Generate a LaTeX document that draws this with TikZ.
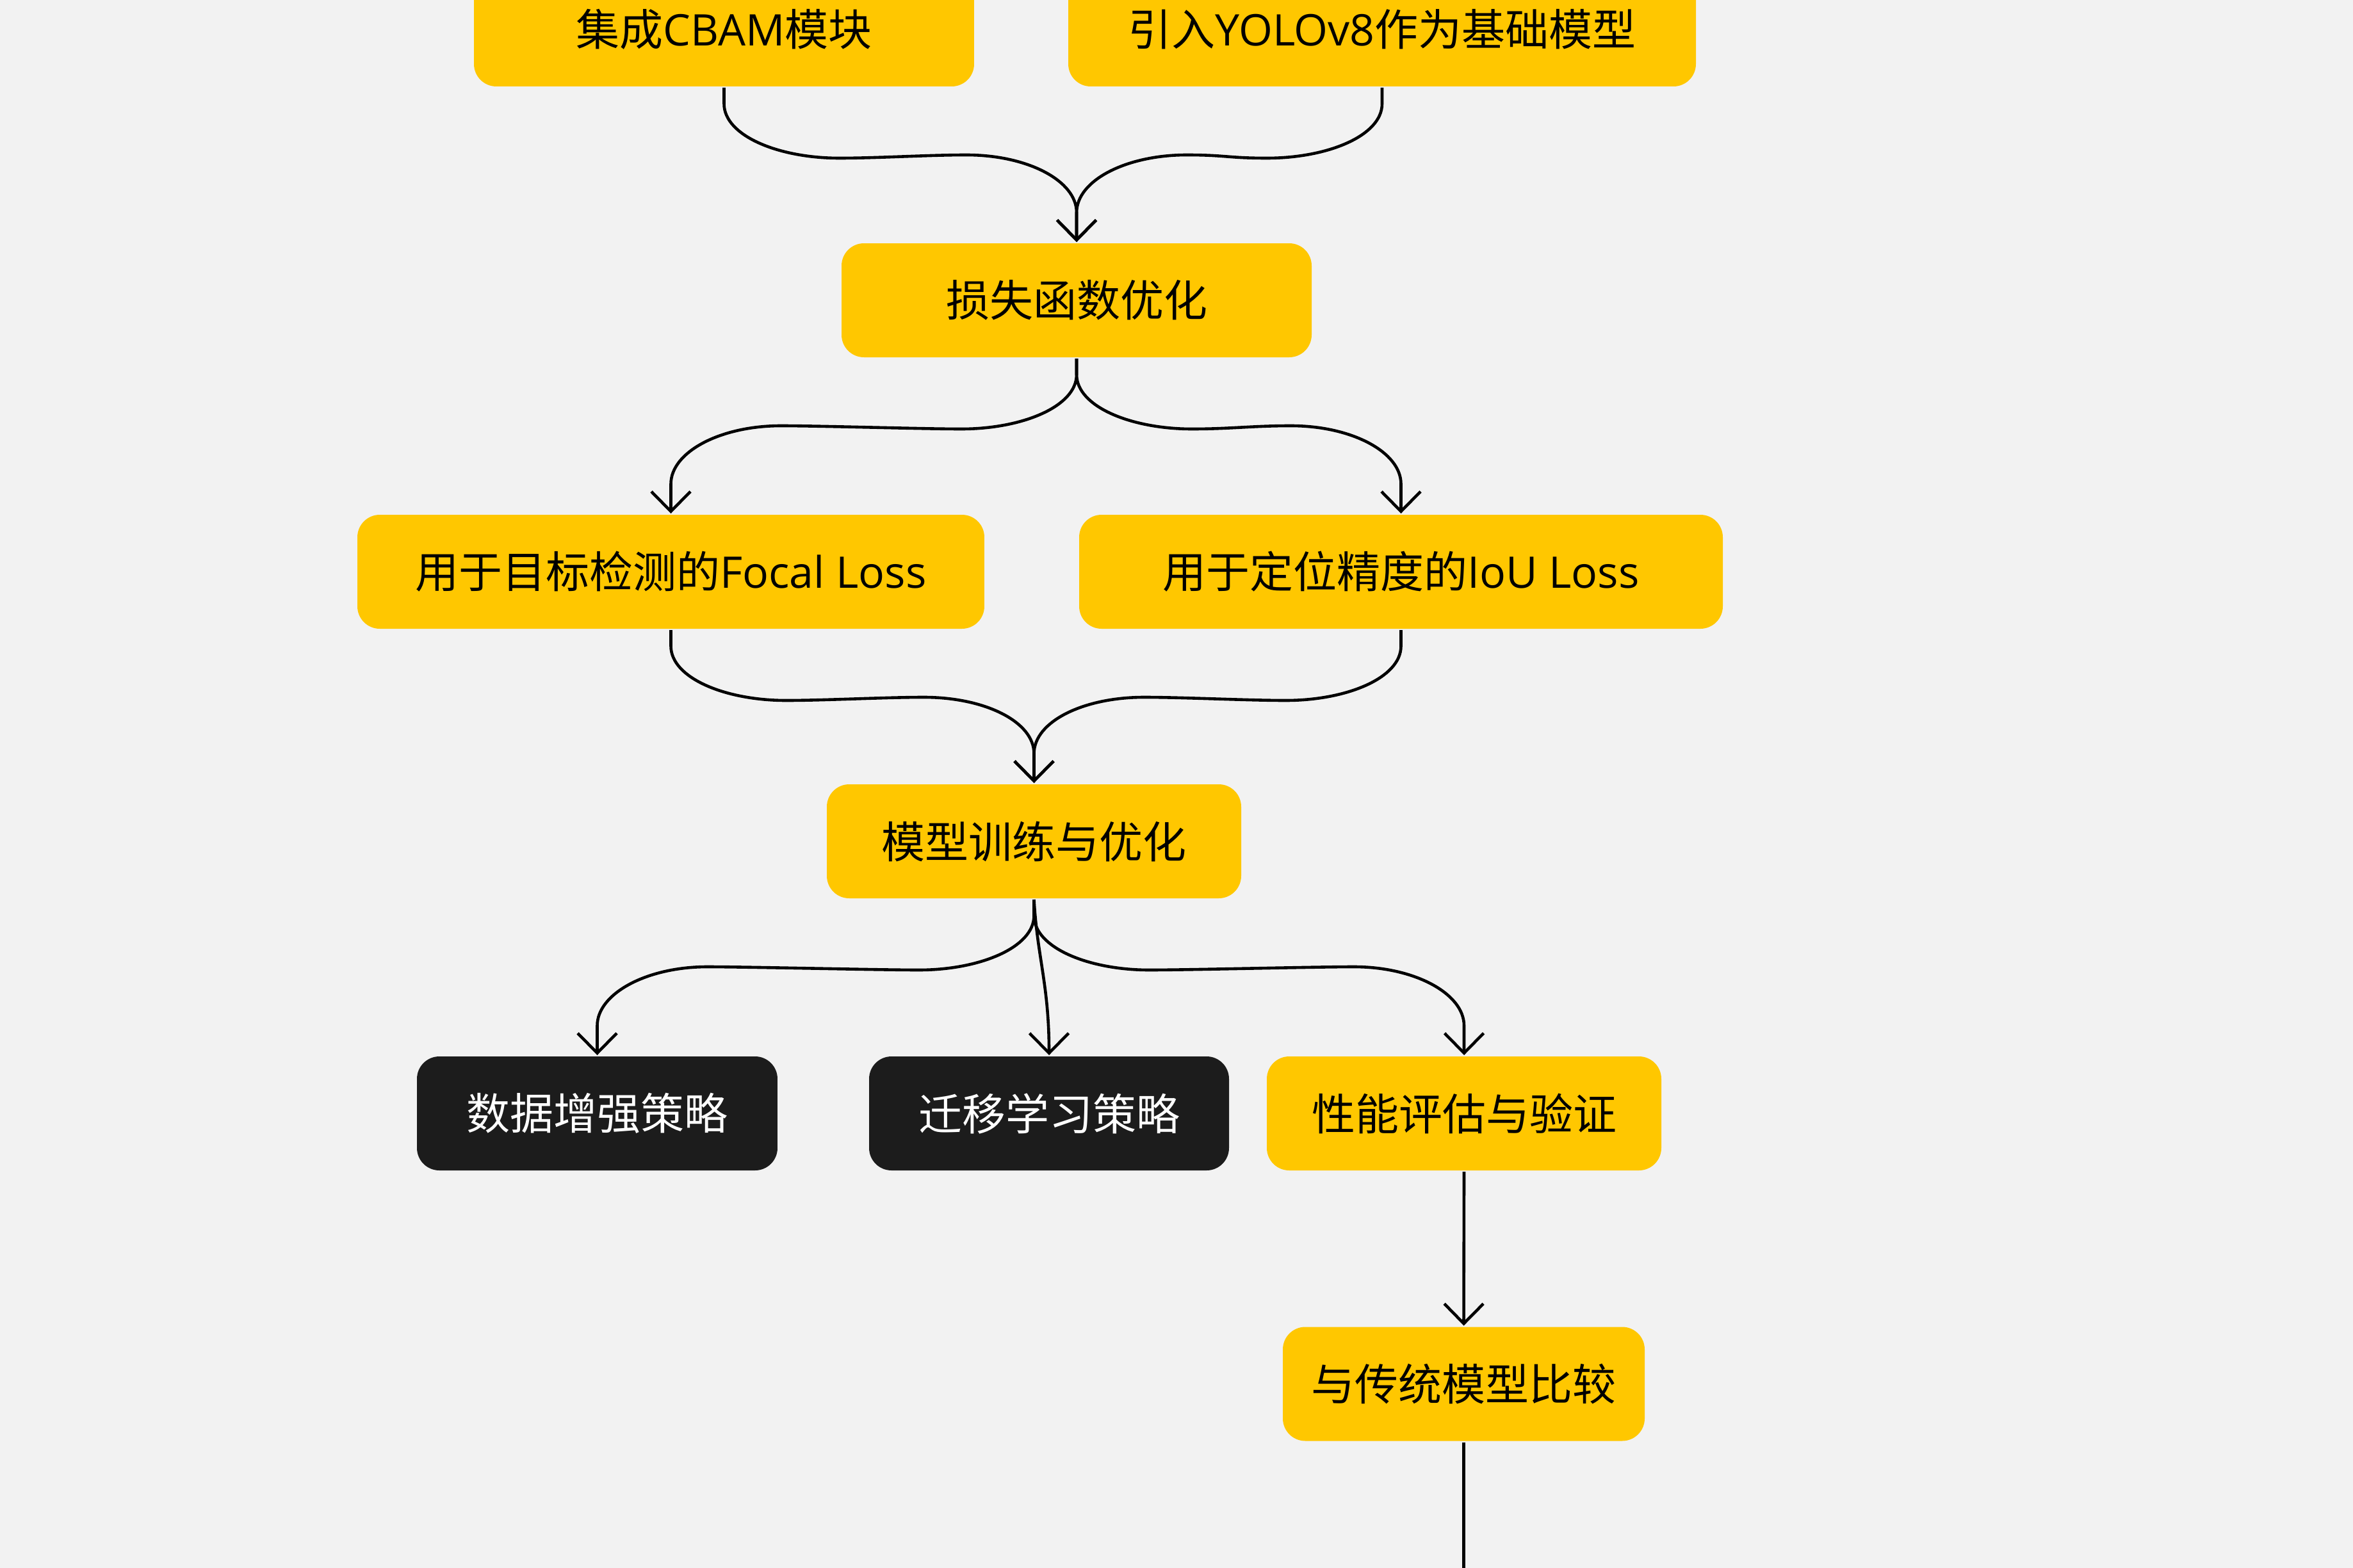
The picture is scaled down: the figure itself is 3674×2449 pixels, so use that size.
\documentclass[tikz,border=0pt]{standalone}
\usepackage{fontspec}
\setmainfont{Open Sans}
\newfontfamily\cjk{Noto Sans CJK SC}
\usetikzlibrary{arrows.meta,calc}
\definecolor{bg}{RGB}{242,242,242}
\definecolor{ybox}{RGB}{255,199,0}
\definecolor{dbox}{RGB}{28,28,28}
\newcommand\sbend[3]{%
  \draw[conn] (#1.south) -- ($(#1.south)+(0,25)$)
    .. controls +(0,50) and +({-95*(#3)},0) .. ($(#1.south)+({180*(#3)},110)$)
    .. controls +({60*(#3)},0) and +({-60*(#3)},0) .. ($(#2.north |- #1.south)+({-172*(#3)},105)$)
    .. controls +({95*(#3)},0) and +(0,-50) .. ($(#2.north)+(0,-46)$) -- (#2.north);}
\begin{document}
\begin{tikzpicture}[x=0.1pt,y=-0.1pt,
  box/.style={rectangle, rounded corners=3.5pt, inner sep=0pt, minimum height=17.8pt,
    font=\fontsize{6.8pt}{8pt}\selectfont},
  ybx/.style={box, fill=ybox, text=black},
  dbx/.style={box, fill=dbox, text=white},
  conn/.style={line width=0.46pt, draw=black, -{Straight Barb[length=3.1pt,width=6.1pt]}},
  lineonly/.style={line width=0.46pt, draw=black}]
\useasboundingbox (0,0) rectangle (3674,2449);
\clip (0,0) rectangle (3674,2449);
\fill[bg] (0,0) rectangle (3674,2449);

\node[ybx, minimum width=78.1pt] (B1) at (1130.5,46) {{\cjk 集成}CBAM{\cjk 模块}};
\node[ybx, minimum width=98pt] (B2) at (2158,46) {{\cjk 引入}YOLOv8{\cjk 作为基础模型}};
\node[ybx, minimum width=73.4pt] (B3) at (1681,469) {{\cjk 损失函数优化}};
\node[ybx, minimum width=97.9pt] (B4) at (1047.5,893) {{\cjk 用于目标检测的}Focal Loss};
\node[ybx, minimum width=100.5pt] (B5) at (2187.5,893) {{\cjk 用于定位精度的}IoU Loss};
\node[ybx, minimum width=64.7pt] (B6) at (1614.5,1314) {{\cjk 模型训练与优化}};
\node[dbx, minimum width=56.3pt] (B7) at (932.5,1739) {{\cjk 数据增强策略}};
\node[dbx, minimum width=56.2pt] (B8) at (1638,1739) {{\cjk 迁移学习策略}};
\node[ybx, minimum width=61.6pt] (B9) at (2286,1739) {{\cjk 性能评估与验证}};
\node[ybx, minimum width=56.5pt] (B10) at (2285.5,2161.5) {{\cjk 与传统模型比较}};
\coordinate (bot) at (2285.5,2470);

\sbend{B1}{B3}{1}
\sbend{B2}{B3}{-1}
\sbend{B3}{B4}{-1}
\sbend{B3}{B5}{1}
\sbend{B4}{B6}{1}
\sbend{B5}{B6}{-1}
\sbend{B6}{B7}{-1}
\sbend{B6}{B9}{1}
\draw[conn] (B6.south) .. controls +(5,90) and +(0,-110) .. (B8.north);
\draw[conn] (B9.south) -- (B10.north);
\draw[lineonly] (B10.south) -- (B10.south |- bot);
\end{tikzpicture}
\end{document}
